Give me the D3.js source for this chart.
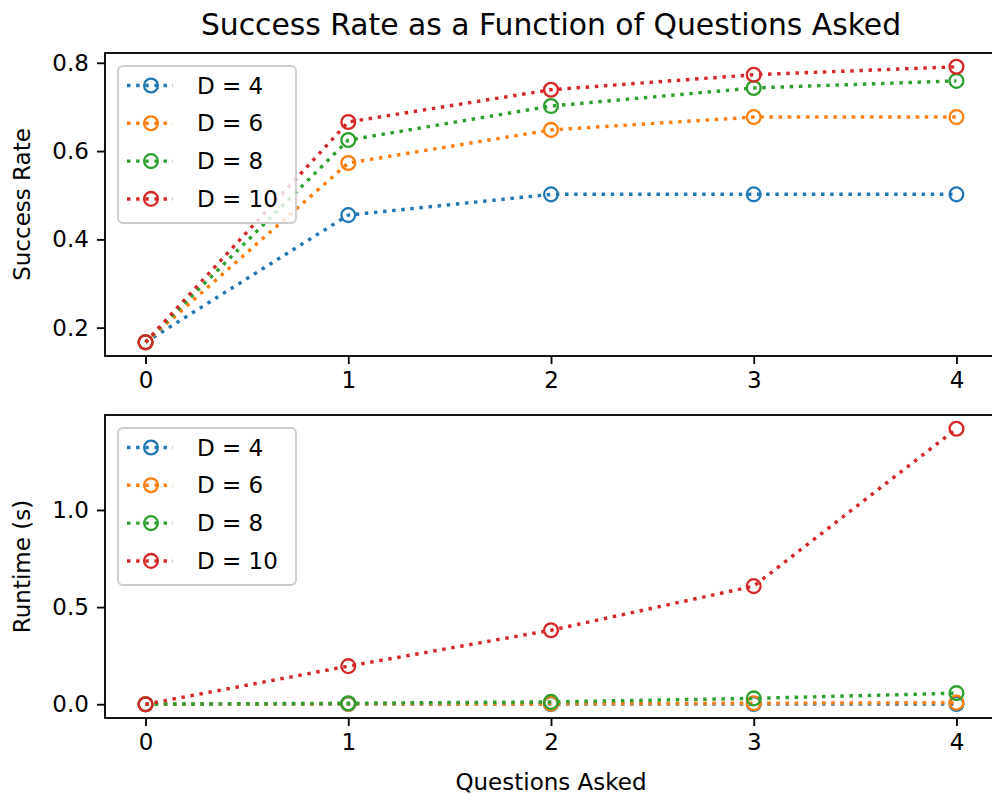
<!DOCTYPE html>
<html>
<head>
<meta charset="utf-8">
<script src="https://cdn.jsdelivr.net/npm/d3@7"></script>
<style>
  body { margin: 0; background: #fff; }
  text { font-family: "DejaVu Sans", sans-serif; fill: #000; }
</style>
</head>
<body>
<div id="chart"></div>
<script>
// data
const questions = [0, 1, 2, 3, 4];
const depthLabels = ["D = 4", "D = 6", "D = 8", "D = 10"];
const colors = ["#1f77b4", "#ff7f0e", "#2ca02c", "#d62728"];

const successD4 = [0.167, 0.455, 0.502, 0.502, 0.502];
const successD6 = [0.167, 0.573, 0.648, 0.677, 0.677];
const successD8 = [0.167, 0.625, 0.702, 0.743, 0.759];
const successD10 = [0.167, 0.666, 0.739, 0.773, 0.791];

const runtimeD4 = [0.0, 0.001, 0.001, 0.001, 0.001];
const runtimeD6 = [0.0, 0.002, 0.003, 0.005, 0.008];
const runtimeD8 = [0.0, 0.005, 0.012, 0.03, 0.057];
const runtimeD10 = [0.0, 0.196, 0.381, 0.608, 1.418];

const xTicks = [0, 1, 2, 3, 4];
const successTicks = [0.2, 0.4, 0.6, 0.8];
const runtimeTicks = [0.0, 0.5, 1.0];

const width = 992;
const height = 795;
const s = 2.3; // px per pt

const svg = d3.select("#chart")
  .append("svg")
  .attr("width", width)
  .attr("height", height);

const left = 105, right = 997;

const x = d3.scaleLinear()
  .domain([-0.2, 4.2])
  .range([left, right]);

function padded(series) {
  const lo = d3.min(series, d => d3.min(d));
  const hi = d3.max(series, d => d3.max(d));
  const m = (hi - lo) * 0.05;
  return [lo - m, hi + m];
}

function panel(series, top, bottom, yTicks, fmt, ylabel, showXLabel) {
  const y = d3.scaleLinear()
    .domain(padded(series))
    .range([bottom, top]);

  const g = svg.append("g");

  // lines + markers
  series.forEach((vals, i) => {
    const pts = questions.map((q, j) => ({ q, v: vals[j] }));
    const line = d3.line().x(d => x(d.q)).y(d => y(d.v));
    g.append("path")
      .datum(pts)
      .attr("fill", "none")
      .attr("stroke", colors[i])
      .attr("stroke-width", 1.5 * s)
      .attr("stroke-dasharray", `${1.5 * s},${1.5 * 1.65 * s}`)
      .attr("d", line);
    g.selectAll(null)
      .data(pts)
      .enter()
      .append("circle")
      .attr("cx", d => x(d.q))
      .attr("cy", d => y(d.v))
      .attr("r", 3 * s)
      .attr("fill", "none")
      .attr("stroke", colors[i])
      .attr("stroke-width", 1 * s);
  });

  // axes
  const xa = svg.append("g")
    .attr("transform", `translate(0,${bottom})`)
    .call(d3.axisBottom(x).tickValues(xTicks).tickFormat(d3.format("d"))
      .tickSizeOuter(0).tickSize(3.5 * s).tickPadding(3.5 * s));
  const ya = svg.append("g")
    .attr("transform", `translate(${left},0)`)
    .call(d3.axisLeft(y).tickValues(yTicks).tickFormat(fmt)
      .tickSizeOuter(0).tickSize(3.5 * s).tickPadding(3.5 * s));
  [xa, ya].forEach(a => {
    a.select(".domain").remove();
    a.selectAll("line").attr("stroke", "#000").attr("stroke-width", 0.8 * s);
    a.selectAll("text").attr("font-size", 23).attr("fill", "#000")
      .style("font-family", "DejaVu Sans, sans-serif");
  });

  // frame
  svg.append("rect")
    .attr("x", left)
    .attr("y", top)
    .attr("width", right - left)
    .attr("height", bottom - top)
    .attr("fill", "none")
    .attr("stroke", "#000")
    .attr("stroke-width", 0.8 * s);

  // y label
  svg.append("text")
    .attr("transform", `translate(30,${(top + bottom) / 2}) rotate(-90)`)
    .attr("text-anchor", "middle")
    .attr("font-size", 23)
    .text(ylabel);

  if (showXLabel) {
    svg.append("text")
      .attr("x", (left + right) / 2)
      .attr("y", bottom + 72)
      .attr("text-anchor", "middle")
      .attr("font-size", 23)
      .text("Questions Asked");
  }

  // legend
  const lx = 118, ly = top + 13;
  const lg = svg.append("g");
  lg.append("rect")
    .attr("x", lx)
    .attr("y", ly)
    .attr("width", 178)
    .attr("height", 157)
    .attr("rx", 5)
    .attr("fill", "#fff")
    .attr("fill-opacity", 0.8)
    .attr("stroke", "#cccccc")
    .attr("stroke-width", 1.8);
  depthLabels.forEach((lab, i) => {
    const cy = ly + 19.5 + i * 37.8;
    lg.append("line")
      .attr("x1", lx + 9)
      .attr("x2", lx + 55)
      .attr("y1", cy)
      .attr("y2", cy)
      .attr("stroke", colors[i])
      .attr("stroke-width", 1.5 * s)
      .attr("stroke-dasharray", `${1.5 * s},${1.5 * 1.65 * s}`);
    lg.append("circle")
      .attr("cx", lx + 33)
      .attr("cy", cy)
      .attr("r", 3 * s)
      .attr("fill", "none")
      .attr("stroke", colors[i])
      .attr("stroke-width", 1 * s);
    lg.append("text")
      .attr("x", lx + 79)
      .attr("y", cy + 8)
      .attr("font-size", 23)
      .text(lab);
  });
}

panel([successD4, successD6, successD8, successD10], 53, 356,
  successTicks, d3.format(".1f"), "Success Rate", false);
panel([runtimeD4, runtimeD6, runtimeD8, runtimeD10], 415, 718,
  runtimeTicks, d3.format(".1f"), "Runtime (s)", true);

svg.append("text")
  .attr("x", (left + right) / 2)
  .attr("y", 35)
  .attr("text-anchor", "middle")
  .attr("font-size", 29.8)
  .text("Success Rate as a Function of Questions Asked");
</script>
</body>
</html>
